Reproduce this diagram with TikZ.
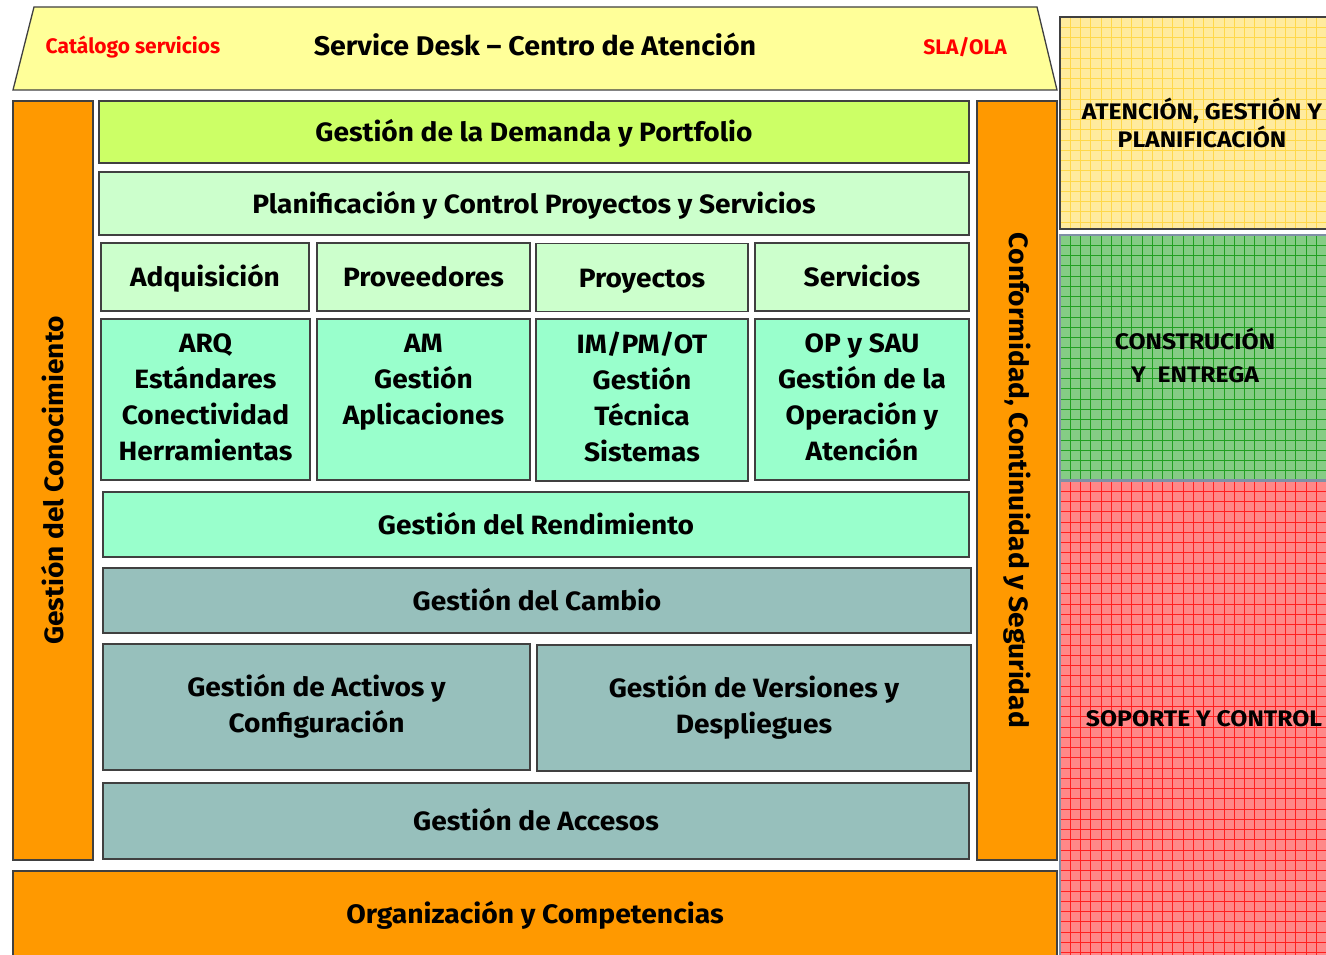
\documentclass[tikz,border=0pt]{standalone}
\usepackage{fontspec}
\setmainfont{Fira Sans}[BoldFont={Fira Sans Bold}]
\newfontfamily\widefont{Fira Sans Bold}[FakeStretch=1.06,Ligatures=TeX]
\newfontfamily\widerfont{Fira Sans Bold}[FakeStretch=1.1,Ligatures=TeX]
\definecolor{trapY}{HTML}{FFFF99}
\definecolor{orng}{HTML}{FF9900}
\definecolor{lime}{HTML}{CCFF66}
\definecolor{pale}{HTML}{CCFFCC}
\definecolor{mint}{HTML}{99FFCC}
\definecolor{teal}{HTML}{97C0BC}
\definecolor{bord}{HTML}{404040}
\definecolor{ypan}{HTML}{FFEB9E}
\definecolor{ygrid}{HTML}{FFD84A}
\definecolor{gpan}{HTML}{85CC85}
\definecolor{ggrid}{HTML}{22A022}
\definecolor{rpan}{HTML}{FF8888}
\definecolor{rgrid}{HTML}{FF2020}
\definecolor{pbord}{HTML}{7F8FA6}
\definecolor{txtred}{HTML}{FF0000}
\tikzset{
  box/.style={draw=bord, line width=1.3pt, inner sep=0pt, align=center, font=\widefont\fontsize{26.5}{36}\selectfont},
  oneline/.style={text height=19pt, text depth=0pt},
  sidelbl/.style={font=\widefont\fontsize{26.5}{30}\selectfont, inner sep=0pt},
  panlbl/.style={font=\widerfont\fontsize{22.5}{28}\selectfont, align=center, inner sep=0pt},
}
\begin{document}
\begin{tikzpicture}[x=1pt,y=-1pt]
\useasboundingbox (0,0) rectangle (1326,955);
% right panels with grid
\begin{scope}
\clip (0,0) rectangle (1326,955);
\fill[ypan] (1060,17) rectangle (1340,229);
\fill[gpan] (1060,235) rectangle (1340,480);
\fill[rpan] (1060,481) rectangle (1340,960);
\begin{scope}
\clip (1060,17) rectangle (1340,229);
\foreach \i in {0,...,28} {\draw[ygrid,line width=0.6pt] (1060+10.25*\i,17) -- (1060+10.25*\i,229);}
\foreach \j in {0,...,21} {\draw[ygrid,line width=0.6pt] (1060,17+10.25*\j) -- (1340,17+10.25*\j);}
\end{scope}
\begin{scope}
\clip (1060,235) rectangle (1340,480);
\foreach \i in {0,...,28} {\draw[ggrid,line width=0.6pt] (1060+10.25*\i,235) -- (1060+10.25*\i,480);}
\foreach \j in {0,...,24} {\draw[ggrid,line width=0.6pt] (1060,235+10.25*\j) -- (1340,235+10.25*\j);}
\end{scope}
\begin{scope}
\clip (1060,481) rectangle (1340,960);
\foreach \i in {0,...,28} {\draw[rgrid,line width=0.6pt] (1060+10.25*\i,481) -- (1060+10.25*\i,960);}
\foreach \j in {0,...,47} {\draw[rgrid,line width=0.6pt] (1060,481+10.25*\j) -- (1340,481+10.25*\j);}
\end{scope}
\draw[bord,line width=1.3pt] (1060,17) rectangle (1340,229);
\draw[pbord,line width=1.3pt] (1060,235) rectangle (1340,480);
\draw[pbord,line width=1.3pt] (1060,481) rectangle (1340,960);
\end{scope}
\node[panlbl] (pan1) at (1202,123) {ATENCIÓN, GESTIÓN Y\\PLANIFICACIÓN};
\node[panlbl] (pan2) at (1195,355) {CONSTRUCIÓN\\[5pt]Y\ \ ENTREGA};
\node[panlbl] (pan3) at (1204,719) {SOPORTE Y CONTROL};
% top trapezoid
\draw[bord,line width=1.3pt,fill=trapY] (34,7) -- (1037,7) -- (1057,90) -- (13,90) -- cycle;
\node[font=\fontsize{21}{24}\selectfont\bfseries, text=txtred] (cat) at (133,47) {Catálogo servicios};
\node[font=\widefont\fontsize{27}{30}\selectfont] (sd) at (535,44) {Service Desk – Centro de Atención};
\node[font=\fontsize{21}{24}\selectfont\bfseries, text=txtred] (sla) at (965,47) {SLA/OLA};
% side bars
\node[box, fill=orng, minimum width=80pt, minimum height=759pt] (left) at (53,480.5) {};
\node[sidelbl, rotate=90] (leftlbl) at (left.center) {Gestión del Conocimiento};
\node[box, fill=orng, minimum width=80pt, minimum height=759pt] (right) at (1017,480.5) {};
\node[sidelbl, rotate=-90] (rightlbl) at (right.center) {Conformidad, Continuidad y Seguridad};
% rows
\node[box, oneline, fill=lime, minimum width=870pt, minimum height=62pt] (dem) at (534,132) {Gestión de la Demanda y Portfolio};
\node[box, oneline, fill=pale, minimum width=870pt, minimum height=63pt] (plan) at (534,203.5) {Planificación y Control Proyectos y Servicios};
\node[box, oneline, fill=pale, minimum width=208pt, minimum height=68pt] (adq) at (205,277) {Adquisición};
\node[box, oneline, fill=pale, minimum width=213pt, minimum height=68pt] (prov) at (423.5,277) {Proveedores};
\node[box, oneline, fill=pale, minimum width=212pt, minimum height=68pt] (proy) at (642,277.5) {Proyectos};
\node[box, oneline, fill=pale, minimum width=214pt, minimum height=68pt] (serv) at (862,277) {Servicios};
\node[box, fill=mint, minimum width=209pt, minimum height=161pt] (arq) at (205.5,399.5) {\strut ARQ\\Estándares\\Conectividad\\Herramientas\strut};
\node[box, fill=mint, minimum width=213pt, minimum height=161pt] (am) at (423.5,399.5) {\strut AM\\Gestión\\Aplicaciones\\\strut};
\node[box, fill=mint, minimum width=212pt, minimum height=162pt] (im) at (642,400) {\strut IM/PM/OT\\Gestión\\Técnica\\Sistemas\strut};
\node[box, fill=mint, minimum width=214pt, minimum height=161pt] (op) at (862,399.5) {\strut OP y SAU\\Gestión de la\\Operación y\\Atención\strut};
\node[box, oneline, fill=mint, minimum width=866pt, minimum height=65pt] (rend) at (536,524.5) {Gestión del Rendimiento};
\node[box, oneline, fill=teal, minimum width=868pt, minimum height=65pt] (camb) at (537,600.5) {Gestión del Cambio};
\node[box, fill=teal, minimum width=427pt, minimum height=126pt] (act) at (316.5,707) {\strut Gestión de Activos y\\Configuración\strut};
\node[box, fill=teal, minimum width=434pt, minimum height=126pt] (ver) at (754,708) {\strut Gestión de Versiones y\\Despliegues\strut};
\node[box, oneline, fill=teal, minimum width=866pt, minimum height=76pt] (acc) at (536,821) {Gestión de Accesos};
\draw[bord, line width=1.3pt, fill=orng] (13,990) -- (13,871) -- (1057,871) -- (1057,990);
\node[font=\widefont\fontsize{26.7}{30}\selectfont] (org) at (535,915) {Organización y Competencias};
\end{tikzpicture}
\end{document}
